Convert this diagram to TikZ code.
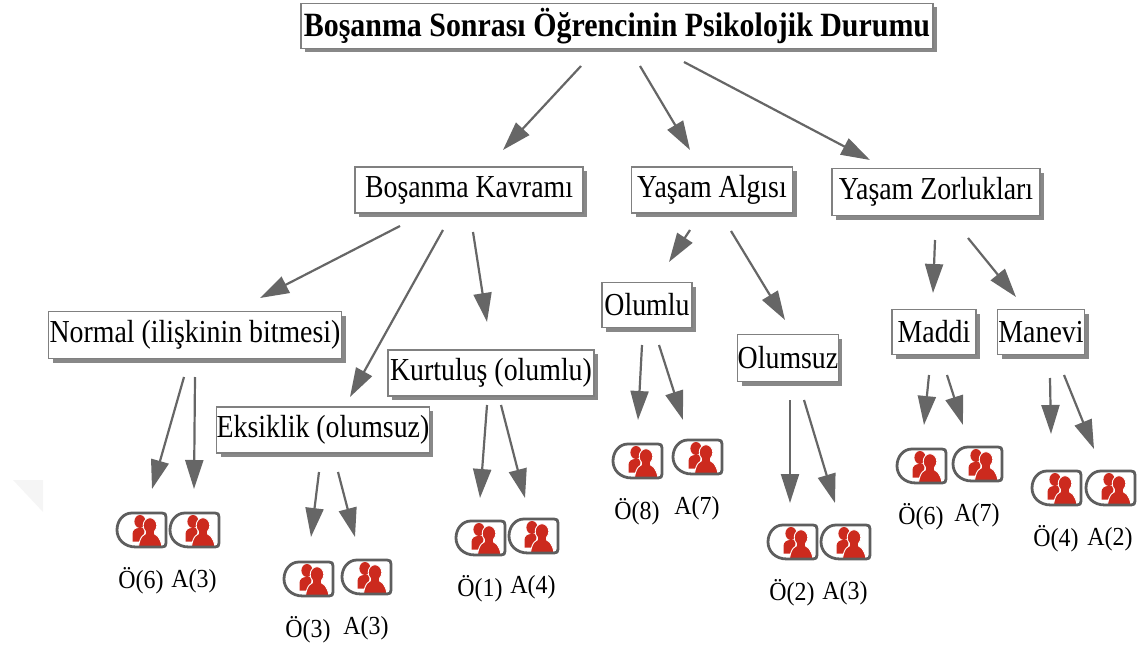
\documentclass[tikz,border=0pt]{standalone}
\usepackage{fontspec}
\setmainfont{Liberation Serif}
\newfontfamily\boxfont[FakeStretch=0.87]{Liberation Serif}
\newfontfamily\titlefont[FakeStretch=0.88,BoldFont={Liberation Serif Bold}]{Liberation Serif}
\newfontfamily\labfont[FakeStretch=0.92]{Liberation Serif}
\usetikzlibrary{arrows.meta,shadows}
\definecolor{linegray}{HTML}{666666}
\definecolor{boxedge}{HTML}{808080}
\definecolor{iconred}{HTML}{CC2A1E}
\definecolor{iconedge}{HTML}{5E5E5E}
\tikzset{
  x=1pt,y=-1pt,
  arr/.style={draw=linegray,line width=2.2pt,-{Triangle[length=29pt,width=18pt]}},
  box/.style={draw=boxedge,line width=1.5pt,fill=white,inner sep=0pt,
    drop shadow={shadow xshift=4pt,shadow yshift=-4pt,fill=black!55,opacity=.85},
    font=\boxfont\fontsize{32}{32}\selectfont},
  titlebox/.style={box,font=\titlefont\fontsize{34}{34}\selectfont\bfseries},
  lab/.style={inner sep=0pt,font=\labfont\fontsize{26}{26}\selectfont},
  iconbox/.style={inner sep=0pt,minimum width=50pt,minimum height=35pt},
  usericon/.pic={
    \fill[iconred] (-1,-8.5) ellipse (5.6 and 6.5);
    \fill[iconred] (-8.5,11.5) -- (-8.5,4) .. controls (-8.5,0) and (-5,-2) .. (-2,-2) -- (4,-2) -- (3,4) -- (-1,11.5) -- cycle;
    \draw[white,line width=.9pt,fill=iconred] (9,-4.5) ellipse (6.8 and 7.8);
    \draw[white,line width=.9pt,fill=iconred] (-2.5,16.5) .. controls (-1,7) and (2,3) .. (9,3) .. controls (16,3) and (19.5,8) .. (21,16.5) -- cycle;
    \fill[iconred] (5,0) rectangle (13,6);
    \draw[iconedge,line width=2.8pt,line join=round]
      (-9,-17) -- (21,-17) .. controls (24,-17) and (25,-16) .. (25,-13)
      -- (25,13) .. controls (25,16) and (24,17) .. (21,17) -- (-5,17)
      .. controls (-17,17) and (-24,9) .. (-24,0)
      .. controls (-24,-9) and (-18,-17) .. (-9,-17) -- cycle;
  }
}
\begin{document}
\begin{tikzpicture}
\useasboundingbox (0,0) rectangle (1140,650);
\fill[black!4] (13,480) -- (43,480) -- (43,512) -- cycle;

\node[titlebox,minimum width=632pt,minimum height=45pt] (title) at (617,26) {Boşanma Sonrası Öğrencinin Psikolojik Durumu};
\node[box,minimum width=228pt,minimum height=46pt] (kavram) at (469,190) {Boşanma Kavramı};
\node[box,minimum width=161pt,minimum height=46pt] (algi) at (712,190) {Yaşam Algısı};
\node[box,minimum width=208pt,minimum height=47pt] (zor) at (936,192) {Yaşam Zorlukları};
\node[box,minimum width=293pt,minimum height=47pt] (normal) at (195,335) {Normal (ilişkinin bitmesi)};
\node[box,minimum width=210pt,minimum height=46pt] (eksik) at (323,430) {Eksiklik (olumsuz)};
\node[box,minimum width=206pt,minimum height=46pt] (kurt) at (491,373) {Kurtuluş (olumlu)};
\node[box,minimum width=90pt,minimum height=45pt] (olumlu) at (647,305) {Olumlu};
\node[box,minimum width=99pt,minimum height=47pt] (olumsuz) at (788,358) {Olumsuz};
\node[box,minimum width=84pt,minimum height=45pt] (maddi) at (934,332) {Maddi};
\node[box,minimum width=87pt,minimum height=45pt] (manevi) at (1041,332) {Manevi};

\foreach \n/\x/\y/\t in {
  ia/141/530/Ö(6), ib/194/530/A(3),
  ic/308/579/Ö(3), id/366/577/A(3),
  ie/480/538/Ö(1), if/533/536/A(4),
  ig/637/461/Ö(8), ih/697/457/A(7),
  ii/792/542/Ö(2), ij/845/542/A(3),
  ik/921/466/Ö(6), il/977/464/A(7),
  im/1056/488/Ö(4), in/1110/488/A(2)}{
  \node[iconbox] (\n) at (\x,\y) {};
  \pic at (\n) {usericon};
  \node[lab] (\n t) at (\x,\y+51) {\t};
}

\foreach \n/\sx/\sy/\ex/\ey in {
  a/581/66/503/150, b/640/66/690/150, c/684/62/870/160,
  d/400/226/260/298, e/443/230/350/397, f/473/232/487/322,
  g/690/230/669/262, h/731/231/785/320,
  i/935/240/933/293, j/968/238/1016/297,
  k/184/377/152/489, l/195/377/194/489,
  m/319/472/311/537, n/338/472/355/537,
  o/487/405/480/498, p/501/405/525/498,
  q/642/345/638/420, r/659/345/683/420,
  s/790/400/790/503, t/804/400/835/503,
  u/929/375/924/425, v/947/375/963/425,
  w/1050/378/1051/434, x/1064/375/1094/449}{
  \coordinate (\n s) at (\sx,\sy);
  \coordinate (\n e) at (\ex,\ey);
  \draw[arr] (\n s) -- (\n e);
}
\end{tikzpicture}
\end{document}
